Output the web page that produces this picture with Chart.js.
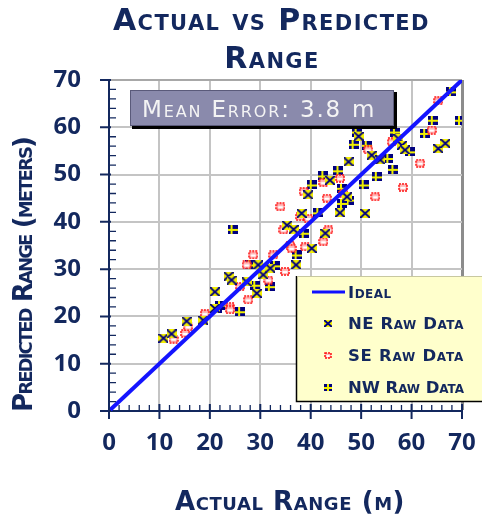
<!DOCTYPE html>
<html><head><meta charset="utf-8">
<script src="https://cdn.jsdelivr.net/npm/chart.js@4"></script>
<style>html,body{margin:0;padding:0;background:#fff;overflow:hidden}</style>
</head><body>
<canvas id="c" width="482" height="518" style="display:block;width:482px;height:518px"></canvas>
<script>
// ---- data ----
const tickValues = [0, 10, 20, 30, 40, 50, 60, 70];
const idealX = [0, 70];
const idealY = [0, 70];
const neX = [10.8,12.4,15.4,18.7,21.0,21.0,23.7,24.3,27.3,29.3,29.6,30.6,32.0,37.1,40.2,35.3,36.6,42.9,38.2,39.5,43.8,47.2,45.8,50.8,47.5,49.5,52.1,53.8,57.4,58.1,58.7,65.3,66.7];
const neY = [15.4,16.3,19.0,19.2,25.2,21.7,28.5,27.7,27.3,24.9,30.9,28.8,30.2,30.9,34.4,39.3,38.4,37.6,41.8,45.7,48.8,45.3,41.9,41.8,52.7,58.1,54.1,53.1,57.6,56.2,55.2,55.5,56.6];
const seX = [12.8,15.1,15.7,19.0,24.0,24.0,27.6,26.0,28.6,27.3,31.6,32.6,34.9,35.9,36.2,38.9,42.5,43.5,34.6,34.0,37.9,39.5,38.6,43.2,42.5,45.8,46.5,52.8,51.4,56.1,58.3,61.7,64.0,65.3];
const seY = [15.2,16.4,17.8,20.6,22.0,21.4,23.5,26.3,33.0,30.9,27.7,33.0,29.5,35.1,34.4,34.7,35.8,38.3,38.3,43.2,41.1,40.7,46.4,45.0,48.3,49.2,46.0,45.3,55.2,56.9,47.3,52.4,59.4,65.6];
const nwX = [21.4,22.0,26.0,24.5,29.0,31.9,28.0,32.9,37.2,38.6,41.5,40.2,46.2,47.5,46.2,42.5,45.5,50.5,53.1,56.4,49.1,48.5,51.1,55.4,56.7,59.7,62.7,64.2,69.6,67.8];
const nwY = [21.7,22.4,21.0,38.4,26.6,26.3,30.9,30.7,33.0,37.6,41.9,47.8,47.1,44.6,43.9,49.7,50.8,47.8,49.5,51.1,59.0,56.4,56.2,53.4,59.0,54.8,58.7,61.5,61.5,67.5];
const titleLines = ['Actual vs Predicted', 'Range'];
const xTitle = 'Actual Range (m)';
const yTitle = 'Predicted Range (meters)';
const noteLabel = 'Mean Error: 3.8';
const noteUnit = 'm';
const labels = ['Ideal', 'NE Raw Data', 'SE Raw Data', 'NW Raw Data'];

// ---- styles ----
const NAVY = '#13285e';
const FONT = '"Open Sans", "DejaVu Sans", sans-serif';
const WIDE = '"DejaVu Sans", sans-serif';
function mk(w, h, draw) { const c = document.createElement('canvas'); c.width = w; c.height = h; draw(c.getContext('2d'), w, h); return c; }
function drawNW(g, w, h) { g.fillStyle = '#000080'; g.fillRect(0, 0, w, h); g.fillStyle = '#f0f000'; g.fillRect(Math.round(w*0.33), 0, 2, h); g.fillRect(0, Math.round(h/2)-1, w, 2); }
function drawNE(g, w, h) { g.fillStyle = '#f4f000'; g.fillRect(0, 0, w, h);
  g.strokeStyle = '#000080'; g.lineWidth = 2; g.beginPath(); g.moveTo(0,0); g.lineTo(w,h); g.moveTo(w,0); g.lineTo(0,h); g.stroke(); }
function drawSE(g, w, h) { g.fillStyle = '#ffb8b8'; g.fillRect(1, 1, w-2, h-2); g.strokeStyle = '#ff1010'; g.lineWidth = 1.5; g.setLineDash([2, 1]); g.strokeRect(1, 1, w-2, h-2); g.fillStyle = '#ffffff'; g.fillRect(2.5, Math.round(h/2)-1, w-5, 2); }
const nwImg = mk(10, 9, drawNW), neImg = mk(10, 9, drawNE), seImg = mk(10, 9, drawSE);
const nwLeg = mk(8, 7, drawNW), neLeg = mk(8, 7, drawNE), seLeg = mk(8, 7, drawSE);

const pts = (xs, ys) => xs.map((x, i) => ({ x, y: ys[i] }));

function setFont(ctx, size, weight, caps, fam) {
  ctx.font = (caps ? 'small-caps ' : '') + (weight || 'normal') + ' ' + size + 'px ' + (fam || FONT);
  try { ctx.fontVariantCaps = caps ? 'small-caps' : 'normal'; } catch (e) {}
  ctx.letterSpacing = '0px';
}
function spaceTo(ctx, text, width) {
  ctx.letterSpacing = '0px';
  const w = ctx.measureText(text).width;
  const sp = (width - w) / text.length;
  ctx.letterSpacing = sp.toFixed(2) + 'px';
  return sp;
}

const decor = {
  id: 'decor',
  afterDatasetsDraw(chart) {
    const ctx = chart.ctx, xs = chart.scales.x, ys = chart.scales.y;
    const x0 = xs.getPixelForValue(0), y0 = ys.getPixelForValue(0);
    ctx.save();
    // ticks
    ctx.strokeStyle = NAVY;
    for (let v = 0; v <= 70; v += 2) {
      const major = v % 10 === 0;
      const px = xs.getPixelForValue(v), py = ys.getPixelForValue(v);
      ctx.lineWidth = major ? 2 : 1.3;
      ctx.beginPath();
      if (major) { ctx.moveTo(px, y0 - 7); ctx.lineTo(px, y0 + 8); ctx.moveTo(x0 - 9, py); ctx.lineTo(x0 + 2, py); }
      else { ctx.moveTo(px, y0 - 6); ctx.lineTo(px, y0); ctx.moveTo(x0, py); ctx.lineTo(x0 + 7, py); }
      ctx.stroke();
    }
    // note box
    ctx.fillStyle = '#000'; ctx.fillRect(132, 92, 265, 37);
    ctx.fillStyle = '#8a8aac'; ctx.fillRect(130, 90, 264, 36);
    ctx.strokeStyle = '#5a5a7a'; ctx.lineWidth = 1; ctx.strokeRect(130.5, 90.5, 263, 35);
    ctx.fillStyle = '#f4f4f4'; ctx.textAlign = 'left'; ctx.textBaseline = 'alphabetic';
    setFont(ctx, 23, 'normal', true, WIDE);
    spaceTo(ctx, noteLabel, 200);
    ctx.fillText(noteLabel, 142, 117);
    setFont(ctx, 23, 'normal', false, WIDE);
    ctx.fillText(noteUnit, 352, 117);
    // legend
    ctx.fillStyle = '#ffffcc'; ctx.fillRect(296, 276, 186, 126);
    ctx.strokeStyle = '#000'; ctx.lineWidth = 1.5;
    ctx.beginPath(); ctx.moveTo(296.5, 276); ctx.lineTo(296.5, 401.5); ctx.lineTo(482, 401.5); ctx.stroke();
    ctx.strokeStyle = '#c8c8a0'; ctx.lineWidth = 1; ctx.beginPath(); ctx.moveTo(297, 276.5); ctx.lineTo(482, 276.5); ctx.stroke();
    ctx.strokeStyle = '#1010ff'; ctx.lineWidth = 3; ctx.beginPath(); ctx.moveTo(312, 292); ctx.lineTo(345, 292); ctx.stroke();
    ctx.drawImage(neLeg, 324, 320); ctx.drawImage(seLeg, 324, 352); ctx.drawImage(nwLeg, 324, 384);
    ctx.fillStyle = NAVY; ctx.textBaseline = 'alphabetic';
    setFont(ctx, 16.5, '600', true, WIDE);
    const ly = [298, 329, 361, 393];
    labels.forEach((t, i) => { if (i > 0) spaceTo(ctx, t, 116); else ctx.letterSpacing = '0.5px'; ctx.fillText(t, 348, ly[i]); });
    // titles
    ctx.textAlign = 'left';
    setFont(ctx, 30, 'bold', true, WIDE);
    spaceTo(ctx, titleLines[0], 317);
    ctx.fillText(titleLines[0], 113, 30);
    const w2 = ctx.measureText(titleLines[1]).width;
    ctx.fillText(titleLines[1], 272 - w2 / 2, 68);
    setFont(ctx, 26, 'bold', true, WIDE);
    spaceTo(ctx, xTitle, 230);
    ctx.fillText(xTitle, 175, 510);
    ctx.translate(32, 412); ctx.rotate(-Math.PI / 2);
    setFont(ctx, 26, 'bold', true, WIDE);
    spaceTo(ctx, yTitle, 274);
    ctx.fillText(yTitle, 0, 0);
    ctx.restore();
  }
};

const zeroPad = s => { s.paddingLeft = 0; s.paddingRight = 0; s.paddingTop = 0; s.paddingBottom = 0; };

new Chart(document.getElementById('c'), {
  type: 'scatter',
  data: {
    datasets: [
      { type: 'line', label: labels[0], data: pts(idealX, idealY), borderColor: '#1414ff', borderWidth: 4, pointRadius: 0, fill: false, order: 0 },
      { label: labels[1], data: pts(neX, neY), pointStyle: neImg, order: 1 },
      { label: labels[2], data: pts(seX, seY), pointStyle: seImg, order: 2 },
      { label: labels[3], data: pts(nwX, nwY), pointStyle: nwImg, order: 3 }
    ]
  },
  options: {
    responsive: false, animation: false, devicePixelRatio: 1,
    layout: { padding: { top: 80, right: 20, left: 0, bottom: 0 } },
    plugins: { legend: { display: false }, tooltip: { enabled: false }, title: { display: false } },
    scales: {
      x: {
        type: 'linear', min: 0, max: 70,
        afterFit: s => { s.height = 107; zeroPad(s); },
        afterBuildTicks: s => { s.ticks = tickValues.map(v => ({ value: v })); },
        ticks: { color: NAVY, font: { family: FONT, size: 24, weight: 'bold' }, padding: 18, maxRotation: 0 },
        grid: { drawTicks: false, color: c => c.tick && c.tick.value === 70 ? '#8c8c8c' : '#c4c4c4', lineWidth: c => c.tick && c.tick.value === 70 ? 3 : 2 },
        border: { display: true, color: NAVY, width: 2 }
      },
      y: {
        type: 'linear', min: 0, max: 70,
        afterFit: s => { s.width = 109; zeroPad(s); },
        afterBuildTicks: s => { s.ticks = tickValues.map(v => ({ value: v })); },
        ticks: { color: NAVY, font: { family: FONT, size: 24, weight: 'bold' }, padding: 28 },
        grid: { drawTicks: false, color: c => c.tick && c.tick.value === 70 ? '#a8a8a8' : '#c4c4c4', lineWidth: 2 },
        border: { display: true, color: NAVY, width: 2 }
      }
    }
  },
  plugins: [decor]
});
</script>
</body></html>
